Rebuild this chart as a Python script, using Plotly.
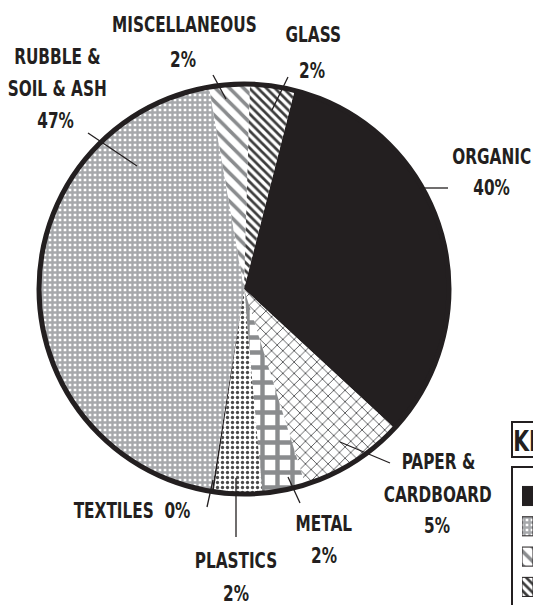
import plotly.graph_objects as go

W, H = 533, 605          # browser window / figure size

# ---- data (clockwise from the Organic slice) ----
categories = ["ORGANIC", "PAPER & CARDBOARD", "METAL", "PLASTICS", "TEXTILES",
              "RUBBLE & SOIL & ASH", "MISCELLANEOUS", "GLASS"]
# slice sizes as drawn in the picture (share of the circle, %)
drawn_share = [32.9, 8.3, 3.4, 3.8, 0.15, 44.75, 3.2, 3.5]
# percentages printed on the labels
printed_pct = ["40%", "5%", "2%", "2%", "0%", "47%", "2%", "2%"]
# order of the key (legend) entries
legend_order = ["ORGANIC", "RUBBLE & SOIL & ASH", "MISCELLANEOUS", "GLASS",
                "PAPER & CARDBOARD", "METAL", "PLASTICS", "TEXTILES"]

# ---- styles ----
INK = "#231f20"
style = {
    "ORGANIC":             dict(shape="",   fg=INK,       bg=INK,     size=8,  sol=0.5),
    "PAPER & CARDBOARD":   dict(shape="x",  fg="#58595b", bg="white", size=8,  sol=0.22),
    "METAL":               dict(shape="+",  fg="#8a8c8e", bg="white", size=15, sol=0.5),
    "PLASTICS":            dict(shape=".",  fg="#4a4a4a", bg="white", size=5,  sol=0.35),
    "TEXTILES":            dict(shape="",   fg=INK,       bg=INK,     size=8,  sol=0.5),
    "RUBBLE & SOIL & ASH": dict(shape="+",  fg="#a6a8ab", bg="white", size=5,  sol=0.72),
    "MISCELLANEOUS":       dict(shape="\\", fg="#8a8c8e", bg="white", size=10, sol=0.35),
    "GLASS":               dict(shape="\\", fg="#3c3c3c", bg="white", size=6,  sol=0.45),
}


def pattern_for(labels):
    return dict(
        shape=[style[l]["shape"] for l in labels],
        fgcolor=[style[l]["fg"] for l in labels],
        bgcolor=[style[l]["bg"] for l in labels],
        size=[style[l]["size"] for l in labels],
        solidity=[style[l]["sol"] for l in labels],
        fillmode="replace",
    )


CX, CY, R = 244, 289, 205  # pie centre / radius in pixels


def fx(x):
    return x / W


def fy(y):
    return 1 - y / H


fig = go.Figure()

fig.add_trace(go.Pie(
    labels=categories,
    values=drawn_share,
    sort=False,
    direction="clockwise",
    rotation=14.3,
    textinfo="none",
    marker=dict(colors=[style[l]["bg"] for l in categories],
                pattern=pattern_for(categories),
                line=dict(width=0)),
    domain=dict(x=[fx(CX - R), fx(CX + R)], y=[fy(CY + R), fy(CY - R)]),
    showlegend=False,
))

# ---- key swatches (one patterned bar per entry, hidden axis at right edge) ----
KEY_TOP, PITCH = 480, 30.3
first_c = 496
r_top = -(first_c - KEY_TOP) / PITCH
r_bot = (H - first_c) / PITCH
for lab in legend_order:
    s = style[lab]
    pat = dict(shape=s["shape"], fgcolor=s["fg"], bgcolor=s["bg"],
               size=s["size"], solidity=s["sol"], fillmode="replace")
    fig.add_trace(go.Bar(
        y=[lab], x=[1], orientation="h", width=0.63,
        marker=dict(color=s["bg"], pattern=pat,
                    line=dict(color=INK, width=1)),
        xaxis="x2", yaxis="y2", hoverinfo="skip", showlegend=False,
    ))

shapes = []
# outer ring
shapes.append(dict(type="circle", xref="paper", yref="paper",
                   x0=fx(CX - R), x1=fx(CX + R), y0=fy(CY + R), y1=fy(CY - R),
                   line=dict(color=INK, width=5)))

# leader lines (pixels)
leaders = [
    ((88, 133), (137, 166)),
    ((213, 75), (226, 99)),
    ((288, 77), (272, 110)),
    ((420, 188), (448, 188)),
    ((340, 442), (390, 463)),
    ((288, 477), (300, 503)),
    ((236, 478), (236, 537)),
    ((213, 480), (207, 507)),
]
for (a, b) in leaders:
    shapes.append(dict(type="line", xref="paper", yref="paper",
                       x0=fx(a[0]), y0=fy(a[1]), x1=fx(b[0]), y1=fy(b[1]),
                       line=dict(color=INK, width=1.3)))

# key boxes
shapes.append(dict(type="rect", xref="paper", yref="paper",
                   x0=fx(512), y0=fy(457), x1=fx(570), y1=fy(422),
                   line=dict(color=INK, width=2)))
shapes.append(dict(type="rect", xref="paper", yref="paper",
                   x0=fx(512), y0=fy(650), x1=fx(570), y1=fy(467),
                   line=dict(color=INK, width=2)))

FONT = "DejaVu Sans Condensed, DejaVu Sans, sans-serif"
label_lines = [
    ("RUBBLE &", 57, 57), ("SOIL & ASH", 57, 89), (printed_pct[5], 55, 121),
    ("MISCELLANEOUS", 184, 25), (printed_pct[6], 183, 60),
    ("GLASS", 313, 35), (printed_pct[7], 312, 71),
    ("ORGANIC", 491, 157), (printed_pct[0], 491, 188),
    ("PAPER &", 438, 462), ("CARDBOARD", 437, 495), (printed_pct[1], 437, 526),
    ("METAL", 324, 524), (printed_pct[2], 324, 556),
    ("PLASTICS", 236, 561), (printed_pct[3], 236, 594),
    ("TEXTILES  " + printed_pct[4], 132, 511),
]
annotations = []
for text, x, y in label_lines:
    annotations.append(dict(text="<b>%s</b>" % text, x=fx(x), y=fy(y),
                            xref="paper", yref="paper", showarrow=False,
                            xanchor="center", yanchor="middle",
                            font=dict(family=FONT, size=21, color=INK)))
annotations.append(dict(text="<b>KEY</b>", x=fx(536), y=fy(441),
                        xref="paper", yref="paper", showarrow=False,
                        xanchor="center", yanchor="middle",
                        font=dict(family=FONT, size=28, color=INK)))

fig.update_layout(
    width=W, height=H,
    margin=dict(l=0, r=0, t=0, b=0, autoexpand=False),
    paper_bgcolor="white", plot_bgcolor="rgba(0,0,0,0)",
    shapes=shapes, annotations=annotations,
    barmode="overlay",
    xaxis2=dict(domain=[fx(522), 1], range=[0, 1], visible=False,
                fixedrange=True),
    yaxis2=dict(domain=[0, fy(KEY_TOP)], range=[r_bot, r_top], visible=False,
                type="category", categoryorder="array",
                categoryarray=legend_order, fixedrange=True),
    xaxis=dict(visible=False), yaxis=dict(visible=False),
)

# page without its default margin; narrow the lettering (the original uses a
# very condensed display face)
post = """
(function(){
  document.documentElement.style.margin = '0';
  document.documentElement.style.overflow = 'hidden';
  document.body.style.margin = '0';
  document.body.style.overflow = 'hidden';
  function squeeze(){
    document.querySelectorAll('.annotation-text').forEach(function(t){
      if (t.getAttribute('data-sq')) return;
      var w = t.getComputedTextLength();
      t.setAttribute('textLength', (w*0.81).toFixed(1));
      t.setAttribute('lengthAdjust', 'spacingAndGlyphs');
      t.setAttribute('data-sq', '1');
    });
  }
  squeeze();
  setTimeout(squeeze, 50);
})();
"""

fig.write_html("out.html", post_script=post,
               config={"displayModeBar": False, "staticPlot": True})
